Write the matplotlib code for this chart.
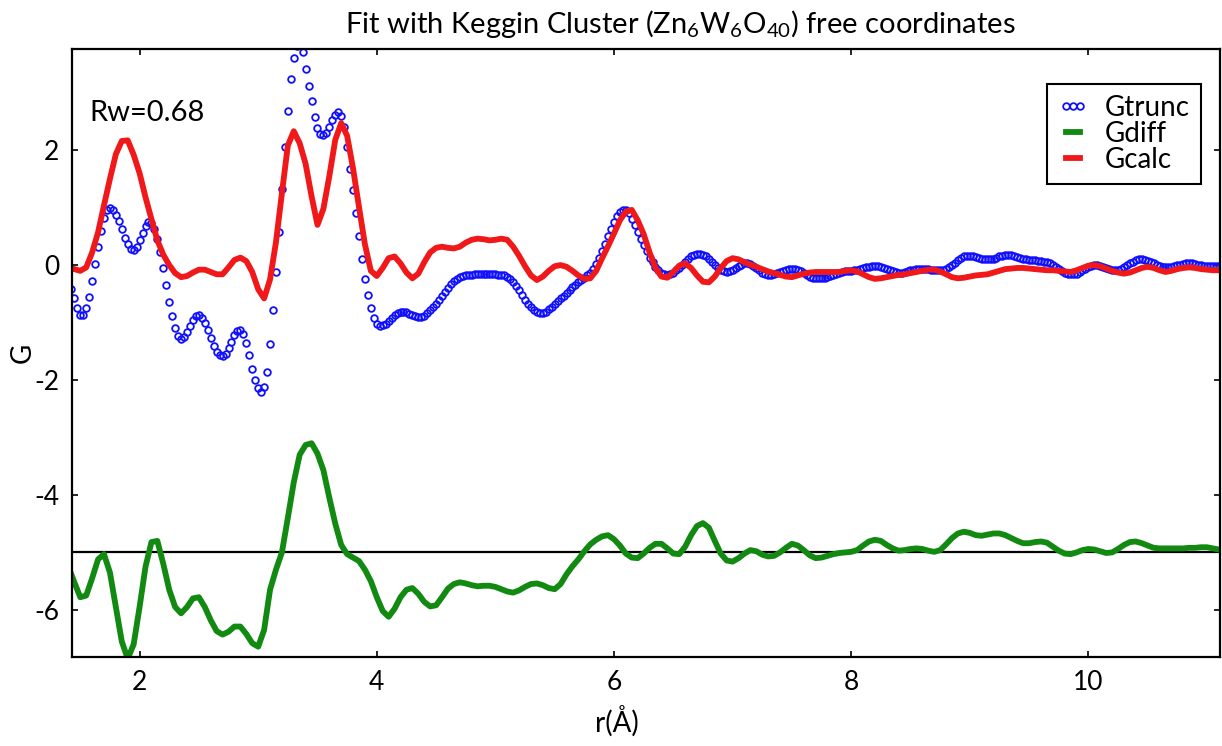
import matplotlib
matplotlib.use('Agg')
import matplotlib.pyplot as plt
import numpy as np

plt.rcParams['font.family'] = ['Lato', 'DejaVu Sans']
plt.rcParams['mathtext.fontset'] = 'custom'
plt.rcParams['mathtext.rm'] = 'Lato'
plt.rcParams['mathtext.it'] = 'Lato:italic'
plt.rcParams['axes.unicode_minus'] = False

# Gtrunc sampled every 0.025 A from r = 1.40
g_trunc = [
    -0.25, -0.42, -0.58, -0.74, -0.86, -0.86, -0.74, -0.55,   # 1.40
    -0.28, 0.02, 0.32, 0.60, 0.82, 0.95, 0.99, 0.96,          # 1.60
    0.88, 0.76, 0.62, 0.475, 0.36, 0.28, 0.26, 0.32,          # 1.80
    0.43, 0.565, 0.68, 0.745, 0.73, 0.635, 0.46, 0.23,        # 2.00
    -0.05, -0.35, -0.64, -0.89, -1.10, -1.23, -1.28, -1.25,   # 2.20
    -1.17, -1.06, -0.95, -0.88, -0.87, -0.92, -1.01, -1.13,   # 2.40
    -1.27, -1.40, -1.51, -1.57, -1.59, -1.55, -1.45, -1.33,   # 2.60
    -1.22, -1.15, -1.13, -1.20, -1.36, -1.57, -1.80, -2.00,   # 2.80
    -2.14, -2.20, -2.12, -1.86, -1.38, -0.78, -0.12, 0.57,    # 3.00
    1.33, 2.05, 2.69, 3.23, 3.61, 3.82, 3.85, 3.70,           # 3.20
    3.42, 3.12, 2.86, 2.58, 2.38, 2.28, 2.26, 2.30,           # 3.40
    2.40, 2.52, 2.62, 2.67, 2.60, 2.40, 2.05, 1.67,           # 3.60
    1.30, 0.90, 0.50, 0.11, -0.25, -0.52, -0.75, -0.92,       # 3.80
    -1.03, -1.06, -1.05, -1.02, -0.97, -0.92, -0.87, -0.83,   # 4.00
    -0.81, -0.81, -0.82, -0.85, -0.87, -0.89, -0.90, -0.90,   # 4.20
    -0.88, -0.84, -0.79, -0.73, -0.67, -0.61, -0.54, -0.46,   # 4.40
    -0.40, -0.33, -0.28, -0.24, -0.21, -0.19, -0.18, -0.17,   # 4.60
    -0.17, -0.16, -0.16, -0.16, -0.16, -0.16, -0.16, -0.16,   # 4.80
    -0.16, -0.17, -0.17, -0.18, -0.20, -0.24, -0.30, -0.37,   # 5.00
    -0.44, -0.52, -0.60, -0.67, -0.73, -0.78, -0.81, -0.83,   # 5.20
    -0.83, -0.81, -0.77, -0.73, -0.68, -0.63, -0.58, -0.53,   # 5.40
    -0.48, -0.43, -0.39, -0.34, -0.30, -0.26, -0.22, -0.18,   # 5.60
    -0.13, -0.06, 0.02, 0.12, 0.24, 0.37, 0.50, 0.63,         # 5.80
    0.75, 0.85, 0.92, 0.96, 0.96, 0.90, 0.81, 0.69,           # 6.00
    0.57, 0.46, 0.35, 0.24, 0.13, 0.05, -0.03, -0.09,         # 6.20
    -0.14, -0.16, -0.17, -0.15, -0.13, -0.09, -0.045, 0.01,   # 6.40
    0.06, 0.11, 0.15, 0.18, 0.20, 0.20, 0.18, 0.15,           # 6.60
    0.10, 0.05, 0.00, -0.05, -0.09, -0.11, -0.12, -0.11,      # 6.80
    -0.09, -0.05, -0.02, 0.01, 0.03, 0.03, 0.02, -0.01,       # 7.00
    -0.05, -0.09, -0.13, -0.16, -0.17, -0.17, -0.16, -0.14,   # 7.20
    -0.12, -0.10, -0.08, -0.07, -0.07, -0.07, -0.09, -0.11,   # 7.40
    -0.14, -0.17, -0.20, -0.22, -0.23, -0.23, -0.23, -0.22,   # 7.60
    -0.21, -0.19, -0.17, -0.15, -0.13, -0.12, -0.11, -0.11,   # 7.80
    -0.10, -0.09, -0.08, -0.07, -0.05, -0.04, -0.03, -0.02,   # 8.00
    -0.02, -0.02, -0.03, -0.05, -0.07, -0.09, -0.11, -0.12,   # 8.20
    -0.13, -0.13, -0.12, -0.11, -0.09, -0.08, -0.07, -0.06,   # 8.40
    -0.06, -0.06, -0.07, -0.08, -0.08, -0.09, -0.09, -0.09,   # 8.60
    -0.07, -0.04, 0.00, 0.04, 0.08, 0.12, 0.15, 0.16,         # 8.80
    0.16, 0.15, 0.14, 0.12, 0.11, 0.10, 0.10, 0.10,           # 9.00
    0.11, 0.13, 0.15, 0.16, 0.17, 0.17, 0.17, 0.16,           # 9.20
    0.14, 0.12, 0.11, 0.10, 0.09, 0.08, 0.08, 0.07,           # 9.40
    0.07, 0.06, 0.05, 0.03, 0.00, -0.03, -0.07, -0.10,        # 9.60
    -0.13, -0.15, -0.16, -0.16, -0.15, -0.12, -0.09, -0.06,   # 9.80
    -0.03, -0.01, 0.00, 0.00, -0.01, -0.03, -0.05, -0.07,     # 10.00
    -0.09, -0.09, -0.08, -0.06, -0.03, 0.00, 0.03, 0.06,      # 10.20
    0.08, 0.10, 0.10, 0.09, 0.07, 0.05, 0.03, 0.01,           # 10.40
    -0.01, -0.03, -0.04, -0.04, -0.03, -0.02, 0.00, 0.01,     # 10.60
    0.02, 0.03, 0.03, 0.03, 0.02, 0.01, 0.00, -0.01,          # 10.80
    -0.01, -0.02, -0.02, -0.02, -0.02, -0.02,                 # 11.00
]

# Gcalc sampled every 0.05 A from r = 1.40
g_calc = [
    -0.05, -0.07, -0.10, -0.04, 0.22, 0.57, 1.04, 1.50,       # 1.40
    1.93, 2.16, 2.17, 1.92, 1.60, 1.18, 0.80, 0.43,           # 1.80
    0.18, 0.00, -0.14, -0.21, -0.19, -0.13, -0.08, -0.08,     # 2.20
    -0.12, -0.16, -0.16, -0.04, 0.09, 0.13, 0.07, -0.12,      # 2.60
    -0.42, -0.58, -0.25, 0.40, 1.25, 2.08, 2.33, 2.12,        # 3.00
    1.76, 1.20, 0.70, 0.98, 1.55, 2.18, 2.47, 2.25,           # 3.40
    1.68, 1.01, 0.36, -0.10, -0.19, -0.05, 0.12, 0.15,        # 3.80
    0.03, -0.13, -0.23, -0.15, 0.05, 0.22, 0.30, 0.32,        # 4.20
    0.30, 0.29, 0.32, 0.39, 0.44, 0.46, 0.45, 0.43,           # 4.60
    0.44, 0.46, 0.44, 0.32, 0.16, -0.02, -0.18, -0.26,        # 5.00
    -0.20, -0.10, -0.02, 0.00, -0.03, -0.10, -0.18, -0.24,    # 5.40
    -0.23, -0.10, 0.12, 0.33, 0.55, 0.78, 0.93, 0.96,         # 5.80
    0.78, 0.54, 0.22, -0.05, -0.20, -0.22, -0.12, -0.01,      # 6.20
    0.03, -0.05, -0.18, -0.29, -0.30, -0.20, -0.05, 0.07,     # 6.60
    0.12, 0.10, 0.05, 0.01, -0.03, -0.07, -0.11, -0.14,       # 7.00
    -0.17, -0.20, -0.21, -0.18, -0.15, -0.13, -0.12, -0.12,   # 7.40
    -0.12, -0.12, -0.12, -0.10, -0.09, -0.11, -0.16, -0.21,   # 7.80
    -0.24, -0.23, -0.21, -0.19, -0.17, -0.16, -0.14, -0.12,   # 8.20
    -0.10, -0.08, -0.08, -0.11, -0.16, -0.21, -0.23, -0.22,   # 8.60
    -0.20, -0.18, -0.17, -0.16, -0.13, -0.10, -0.07, -0.06,   # 9.00
    -0.05, -0.05, -0.06, -0.07, -0.08, -0.09, -0.09, -0.10,   # 9.40
    -0.11, -0.12, -0.09, -0.05, -0.01, 0.00, -0.02, -0.06,    # 9.80
    -0.10, -0.13, -0.15, -0.13, -0.09, -0.05, -0.03, -0.05,   # 10.20
    -0.09, -0.12, -0.10, -0.07, -0.05, -0.04, -0.05, -0.07,   # 10.60
    -0.08, -0.09, -0.09, -0.09,                               # 11.00
]

# Gdiff (offset by -5) sampled every 0.05 A from r = 1.40
g_diff = [
    -5.25, -5.52, -5.78, -5.75, -5.45, -5.12, -5.03, -5.35,   # 1.40
    -5.95, -6.55, -6.85, -6.60, -5.95, -5.25, -4.82, -4.80,   # 1.80
    -5.20, -5.65, -5.95, -6.06, -5.95, -5.80, -5.78, -5.95,   # 2.20
    -6.18, -6.37, -6.43, -6.38, -6.29, -6.29, -6.42, -6.58,   # 2.60
    -6.64, -6.35, -5.65, -5.30, -5.00, -4.40, -3.78, -3.30,   # 3.00
    -3.13, -3.10, -3.28, -3.57, -4.05, -4.50, -4.87, -5.03,   # 3.40
    -5.09, -5.15, -5.30, -5.50, -5.78, -6.02, -6.12, -5.98,   # 3.80
    -5.78, -5.65, -5.62, -5.72, -5.86, -5.94, -5.92, -5.78,   # 4.20
    -5.63, -5.55, -5.52, -5.54, -5.57, -5.59, -5.58, -5.58,   # 4.60
    -5.60, -5.64, -5.68, -5.70, -5.66, -5.60, -5.55, -5.54,   # 5.00
    -5.57, -5.62, -5.64, -5.55, -5.38, -5.24, -5.12, -4.98,   # 5.40
    -4.86, -4.78, -4.72, -4.70, -4.77, -4.88, -5.02, -5.09,   # 5.80
    -5.10, -5.02, -4.92, -4.85, -4.85, -4.93, -5.02, -5.03,   # 6.20
    -4.90, -4.70, -4.54, -4.49, -4.57, -4.80, -5.02, -5.14,   # 6.60
    -5.16, -5.10, -5.02, -4.96, -4.98, -5.04, -5.07, -5.06,   # 7.00
    -5.00, -4.92, -4.85, -4.88, -4.96, -5.05, -5.10, -5.09,   # 7.40
    -5.06, -5.03, -5.01, -5.00, -4.99, -4.96, -4.88, -4.81,   # 7.80
    -4.78, -4.80, -4.87, -4.93, -4.97, -4.96, -4.94, -4.93,   # 8.20
    -4.94, -4.97, -4.99, -4.96, -4.86, -4.75, -4.67, -4.64,   # 8.60
    -4.66, -4.70, -4.71, -4.69, -4.67, -4.67, -4.70, -4.75,   # 9.00
    -4.80, -4.84, -4.84, -4.82, -4.81, -4.83, -4.90, -4.97,   # 9.40
    -5.02, -5.03, -5.00, -4.96, -4.94, -4.95, -4.98, -5.01,   # 9.80
    -5.00, -4.94, -4.87, -4.82, -4.81, -4.84, -4.88, -4.92,   # 10.20
    -4.93, -4.93, -4.93, -4.93, -4.93, -4.92, -4.92, -4.91,   # 10.60
    -4.91, -4.93, -4.95, -4.96,                               # 11.00
]

diff_offset = -5.0
rw_text = 'Rw=0.68'

r_trunc = 1.40 + 0.025 * np.arange(len(g_trunc))
r_calc = 1.40 + 0.05 * np.arange(len(g_calc))
r_diff = 1.40 + 0.05 * np.arange(len(g_diff))

fig = plt.figure(figsize=(12.22, 7.46), dpi=100)
ax = fig.add_axes([0.0589, 0.1193, 0.9395, 0.815])

ax.plot(r_trunc, g_trunc, 'o', mfc='none', mec='#1010ff', ms=4.8, mew=1.3, label='Gtrunc')
ax.axhline(diff_offset, color='black', lw=1.6, zorder=1)
ax.plot(r_diff, g_diff, '-', color='#128a12', lw=4.2, label='Gdiff')
ax.plot(r_calc, g_calc, '-', color='#f01818', lw=4.2, label='Gcalc')

ax.set_xlim(1.43, 11.11)
ax.set_ylim(-6.82, 3.76)
ax.set_xticks([2, 4, 6, 8, 10])
ax.set_yticks([-6, -4, -2, 0, 2])
ax.tick_params(direction='in', top=True, right=True, length=4, width=1.2,
               labelsize=19, pad=9)
for s in ax.spines.values():
    s.set_linewidth(1.6)

ax.set_xlabel('r(Å)', fontsize=20)
ax.xaxis.set_label_coords(0.475, -0.079)
ax.set_ylabel('G', fontsize=20, va='center')
ax.yaxis.set_label_coords(-0.0427, 0.5)

ax.text(1.58, 2.64, rw_text, fontsize=21, va='center', ha='left')

fig.text(0.557, 0.968, 'Fit with Keggin Cluster (Zn$_6$W$_6$O$_{40}$) free coordinates',
         fontsize=21, ha='center', va='center')

leg = ax.legend(loc='lower right', bbox_to_anchor=(0.9834, 0.778), numpoints=3,
                fontsize=20, handlelength=1.1, handletextpad=0.6, labelspacing=0.0,
                borderpad=0.4, borderaxespad=0, fancybox=False, framealpha=1,
                edgecolor='black')
leg.get_frame().set_linewidth(1.5)

fig.savefig('out.png', dpi=100)
